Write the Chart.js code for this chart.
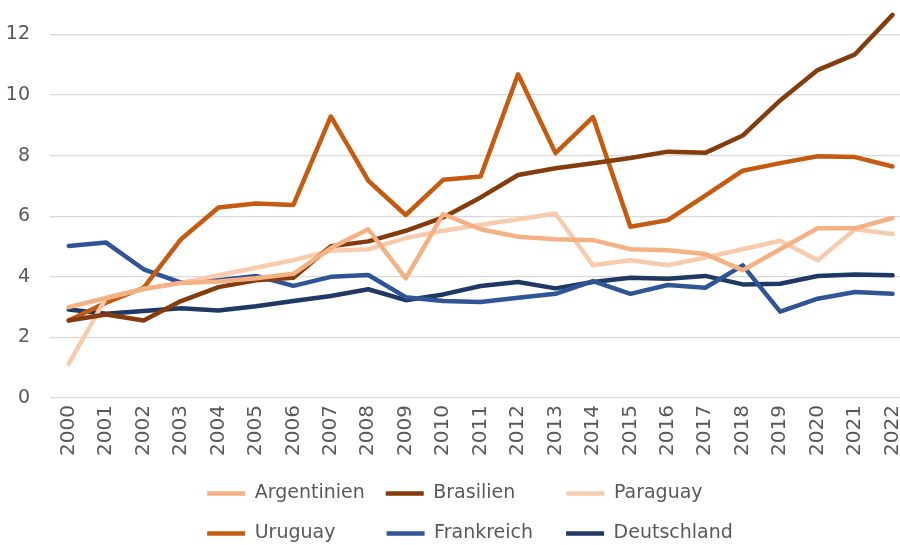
<!DOCTYPE html>
<html>
<head>
<meta charset="utf-8">
<script src="https://cdn.jsdelivr.net/npm/chart.js@4/dist/chart.umd.min.js"></script>
<style>
  html, body { margin: 0; padding: 0; background: #ffffff; }
  #wrap { width: 900px; height: 545px; }
</style>
</head>
<body>
<div id="wrap"><canvas id="chart"></canvas></div>
<script>
// Jahre (x-Achse)
const years = [2000, 2001, 2002, 2003, 2004, 2005, 2006, 2007, 2008, 2009, 2010, 2011,
               2012, 2013, 2014, 2015, 2016, 2017, 2018, 2019, 2020, 2021, 2022];

// Werte je Land
const argentinien = [3.00, 3.30, 3.60, 3.80, 3.85, 3.95, 4.10, 4.95, 5.57, 3.95, 6.07, 5.57,
                     5.32, 5.24, 5.21, 4.91, 4.88, 4.75, 4.22, 4.91, 5.60, 5.60, 5.94];
const brasilien   = [2.56, 2.76, 2.56, 3.20, 3.66, 3.89, 3.97, 5.01, 5.17, 5.52, 5.96, 6.62,
                     7.36, 7.58, 7.75, 7.92, 8.13, 8.09, 8.66, 9.82, 10.82, 11.34, 12.64];
const paraguay    = [1.13, 3.31, 3.60, 3.80, 4.05, 4.30, 4.55, 4.86, 4.91, 5.28, 5.52, 5.72,
                     5.90, 6.09, 4.38, 4.55, 4.38, 4.64, 4.91, 5.19, 4.55, 5.57, 5.41];
const uruguay     = [2.56, 3.15, 3.64, 5.24, 6.29, 6.42, 6.37, 9.29, 7.17, 6.04, 7.20, 7.31,
                     10.68, 8.08, 9.27, 5.65, 5.87, 6.68, 7.50, 7.75, 7.98, 7.95, 7.64];
const frankreich  = [5.02, 5.13, 4.25, 3.81, 3.89, 4.03, 3.70, 4.00, 4.06, 3.33, 3.20, 3.17,
                     3.31, 3.44, 3.86, 3.44, 3.73, 3.64, 4.38, 2.85, 3.28, 3.50, 3.44];
const deutschland = [2.92, 2.78, 2.87, 2.96, 2.89, 3.03, 3.20, 3.37, 3.59, 3.23, 3.42, 3.70,
                     3.83, 3.62, 3.83, 3.97, 3.94, 4.03, 3.75, 3.77, 4.03, 4.08, 4.05];

const seriesNames = ['Argentinien', 'Brasilien', 'Paraguay', 'Uruguay', 'Frankreich', 'Deutschland'];
const seriesData = [argentinien, brasilien, paraguay, uruguay, frankreich, deutschland];
const seriesColors = ['#F4B183', '#843C0C', '#F8CBAD', '#C55A11', '#2F5597', '#203864'];

const yTicks = [0, 2, 4, 6, 8, 10, 12];

const textColor = '#595959';
const fontFamily = '"DejaVu Sans", sans-serif';
const legendFontSize = 19;

// Legende in drei Spalten wie in der Vorlage
const LEGEND_W = 600;
const LEGEND_CX = 470;
const LEGEND_TRIM = 8;

function padLegendTexts(chart, items) {
    const ctx = chart.ctx;
    ctx.save();
    ctx.font = legendFontSize + 'px ' + fontFamily;
    const w = items.map(it => ctx.measureText(it.text).width);
    const targets = [];
    for (let c = 0; c < 3; c++) {
        targets[c] = Math.max(w[c] || 0, w[c + 3] || 0);
    }
    targets[0] = targets[1] = Math.max(targets[0], targets[1]);
    const sp = ctx.measureText(' ').width;
    items.forEach((it, i) => {
        const t = targets[i % 3];
        while (ctx.measureText(it.text).width + sp / 2 < t) {
            it.text += ' ';
        }
    });
    ctx.restore();
    return items;
}

const legendGrid = {
    id: 'legendGrid',
    afterInit(chart) {
        const lg = chart.legend;
        const fit = lg.fit;
        lg.fit = function () {
            const full = this.maxWidth;
            this.maxWidth = LEGEND_W;
            fit.call(this);
            this.maxWidth = full;
            this.height -= LEGEND_TRIM;
        };
    },
    afterLayout(chart) {
        const lg = chart.legend;
        lg.left = LEGEND_CX - LEGEND_W / 2;
        lg.right = LEGEND_CX + LEGEND_W / 2;
        lg.width = LEGEND_W;
    }
};

const datasets = seriesNames.map((name, i) => ({
    label: name,
    data: years.map((yr, j) => ({ x: yr, y: seriesData[i][j] })),
    borderColor: seriesColors[i],
    backgroundColor: seriesColors[i],
    borderWidth: 4.5,
    pointRadius: 0,
    tension: 0,
    borderJoinStyle: 'round',
    borderCapStyle: 'round'
}));

new Chart(document.getElementById('chart').getContext('2d'), {
    type: 'line',
    data: { datasets: datasets },
    plugins: [legendGrid],
    options: {
        responsive: true,
        maintainAspectRatio: false,
        animation: false,
        layout: { padding: { top: 4, right: 0, bottom: 0, left: 0 } },
        scales: {
            x: {
                type: 'linear',
                min: 1999.5,
                max: 2022.2,
                grid: { display: false, drawTicks: false },
                border: { display: false },
                afterBuildTicks: axis => { axis.ticks = years.map(v => ({ value: v })); },
                afterFit: scale => { scale.paddingLeft = 0; scale.paddingRight = 0; },
                ticks: {
                    autoSkip: false,
                    maxRotation: 90,
                    minRotation: 90,
                    padding: 7,
                    color: textColor,
                    font: { family: fontFamily, size: 20 },
                    callback: v => String(v)
                }
            },
            y: {
                min: 0,
                max: 13,
                grid: { color: '#D9D9D9', lineWidth: 1.3, drawTicks: false },
                border: { display: false },
                afterBuildTicks: axis => { axis.ticks = yTicks.map(v => ({ value: v })); },
                afterFit: scale => { scale.width = 50; scale.paddingTop = 0; scale.paddingBottom = 0; },
                ticks: {
                    padding: 20,
                    color: textColor,
                    font: { family: fontFamily, size: 19 }
                }
            }
        },
        plugins: {
            tooltip: { enabled: false },
            legend: {
                position: 'bottom',
                labels: {
                    usePointStyle: true,
                    pointStyle: 'line',
                    pointStyleWidth: 38,
                    boxHeight: 19,
                    padding: 21,
                    color: textColor,
                    font: { family: fontFamily, size: legendFontSize },
                    generateLabels: chart => padLegendTexts(chart,
                        Chart.defaults.plugins.legend.labels.generateLabels(chart))
                }
            }
        }
    }
});
</script>
</body>
</html>
